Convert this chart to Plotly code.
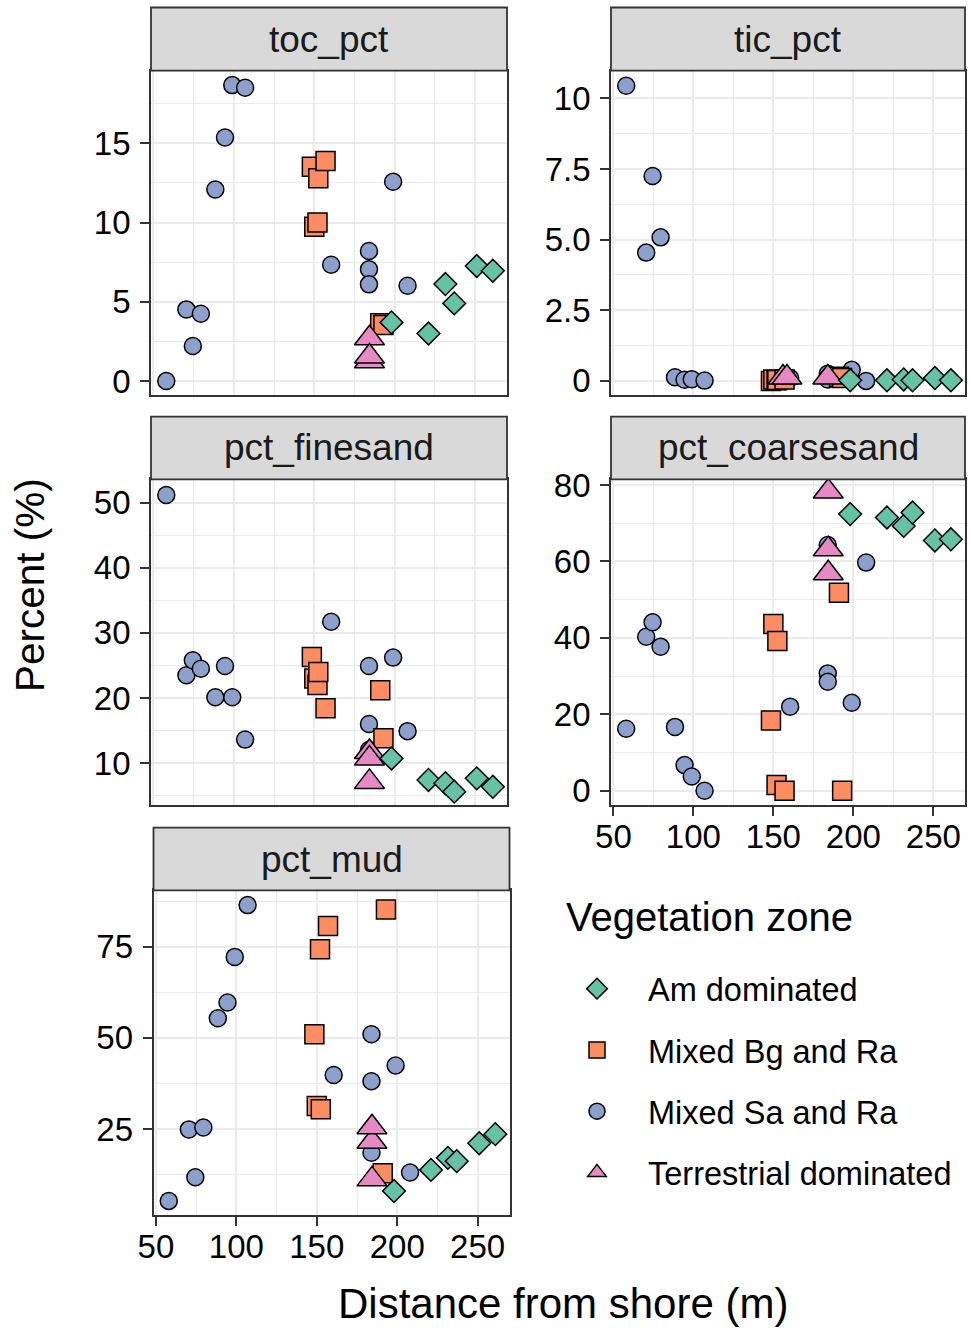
import plotly.graph_objects as go

# ---- data: distance from shore (m) of each core, by vegetation zone ----
zones = ["Am dominated", "Mixed Bg and Ra", "Mixed Sa and Ra", "Terrestrial dominated"]

dist_am = [198, 221, 231.5, 237, 251, 261]
dist_bg = [148.5, 150, 152, 152.5, 157, 191, 193]
dist_sa = [58, 70.5, 74.5, 79.5, 88.5, 94.5, 99, 107, 160.5, 184, 184, 184, 199, 208]
dist_terr = [184.3, 184.3, 184.3]
dist_terr_tic = [156, 158.5, 184]

# total organic carbon (%)
toc_am = [3.70, 3.0, 6.12, 4.9, 7.26, 6.96]
toc_bg = [13.52, 9.74, 10.01, 12.79, 13.88, 3.64, 3.53]
toc_sa = [0.0, 4.52, 2.21, 4.25, 12.09, 15.37, 18.67, 18.5, 7.34, 8.2, 7.05, 6.1, 12.57, 6.01]
toc_terr = [1.25, 2.7, 1.55]

# total inorganic carbon (%)
tic_am = [0.02, 0.02, 0.05, 0.02, 0.1, 0.02]
tic_bg = [0.0, 0.05, 0.02, 0.03, 0.05, 0.15, 0.1]
tic_sa = [10.45, 4.54, 7.25, 5.08, 0.13, 0.04, 0.06, 0.01, 0.1, 0.25, 0.1, 0.05, 0.39, 0.0]
tic_terr = [0.12, 0.12, 0.12]

# fine sand (%)
fine_am = [10.7, 7.4, 6.9, 5.6, 7.65, 6.35]
fine_bg = [26.3, 23.0, 22.0, 24.0, 18.4, 21.2, 13.8]
fine_sa = [51.2, 23.5, 25.8, 24.5, 20.1, 24.9, 20.1, 13.6, 31.7, 24.9, 16.0, 12.0, 26.2, 14.9]
fine_terr = [7.1, 11.7, 10.7]

# coarse sand (%)
coarse_am = [72.4, 71.5, 69.3, 72.8, 65.5, 65.8]
coarse_bg = [18.4, 43.6, 1.5, 39.2, 0.0, 51.8, 0.0]
coarse_sa = [16.2, 40.3, 44.1, 37.7, 16.7, 6.7, 3.7, 0.0, 22.0, 30.7, 28.5, 64.3, 23.0, 59.7]
coarse_terr = [78.3, 63.2, 56.9]

# mud (%)
mud_am = [8.0, 13.8, 17.1, 16.2, 21.1, 23.6]
mud_bg = [51.0, 31.3, 74.3, 30.4, 80.7, 12.9, 85.2]
mud_sa = [5.3, 24.9, 11.8, 25.4, 55.4, 59.7, 72.2, 86.4, 39.8, 38.1, 51.0, 18.5, 42.4, 13.1]
mud_terr = [11.2, 21.5, 25.5]

x_ticks = [50, 100, 150, 200, 250]
x_minor = [75, 125, 175, 225]

# ---- page geometry (pixels) ----
W, H = 971, 1328


def fx(p):
    return p / W


def fy(p):
    return 1 - p / H


BORDER = "#333333"
GRID = "#EBEBEB"
LW = 1.8

style = {
    "Am dominated": dict(symbol="diamond", size=17.5, color="#66C2A5", rank=1),
    "Mixed Bg and Ra": dict(symbol="square", size=19, color="#FC8D62", rank=2),
    "Mixed Sa and Ra": dict(symbol="circle", size=17, color="#8DA0CB", rank=3),
    "Terrestrial dominated": dict(symbol="triangle-up", size=26, color="#E78AC3", rank=4),
}

panels = [
    dict(title="toc_pct", box=(151, 507, 70.7, 395), strip_top=7.5,
         yrange=[-0.88, 19.58], yticks=[0, 5, 10, 15], ytext=["0", "5", "10", "15"],
         yminor=[2.5, 7.5, 12.5, 17.5], xlabels=False,
         series={"Mixed Sa and Ra": (dist_sa, toc_sa), "Mixed Bg and Ra": (dist_bg, toc_bg),
                 "Terrestrial dominated": (dist_terr, toc_terr), "Am dominated": (dist_am, toc_am)}),
    dict(title="tic_pct", box=(611, 965, 70.7, 395), strip_top=7.5,
         yrange=[-0.50, 10.98], yticks=[0, 2.5, 5, 7.5, 10], ytext=["0", "2.5", "5.0", "7.5", "10"],
         yminor=[1.25, 3.75, 6.25, 8.75], xlabels=False,
         series={"Mixed Sa and Ra": (dist_sa, tic_sa), "Mixed Bg and Ra": (dist_bg, tic_bg),
                 "Terrestrial dominated": (dist_terr_tic, tic_terr), "Am dominated": (dist_am, tic_am)}),
    dict(title="pct_finesand", box=(151, 507, 479.3, 805), strip_top=416.7,
         yrange=[3.55, 53.6], yticks=[10, 20, 30, 40, 50], ytext=["10", "20", "30", "40", "50"],
         yminor=[5, 15, 25, 35, 45], xlabels=False,
         series={"Mixed Sa and Ra": (dist_sa, fine_sa), "Mixed Bg and Ra": (dist_bg, fine_bg),
                 "Terrestrial dominated": (dist_terr, fine_terr), "Am dominated": (dist_am, fine_am)}),
    dict(title="pct_coarsesand", box=(611, 965, 479.3, 805), strip_top=416.7,
         yrange=[-3.74, 81.5], yticks=[0, 20, 40, 60, 80], ytext=["0", "20", "40", "60", "80"],
         yminor=[10, 30, 50, 70], xlabels=True,
         series={"Mixed Sa and Ra": (dist_sa, coarse_sa), "Mixed Bg and Ra": (dist_bg, coarse_bg),
                 "Terrestrial dominated": (dist_terr, coarse_terr), "Am dominated": (dist_am, coarse_am)}),
    dict(title="pct_mud", box=(153.5, 509.5, 890.3, 1215), strip_top=827.7,
         yrange=[1.43, 90.46], yticks=[25, 50, 75], ytext=["25", "50", "75"],
         yminor=[12.5, 37.5, 62.5, 87.5], xlabels=True,
         series={"Mixed Sa and Ra": (dist_sa, mud_sa), "Mixed Bg and Ra": (dist_bg, mud_bg),
                 "Terrestrial dominated": (dist_terr, mud_terr), "Am dominated": (dist_am, mud_am)}),
]

fig = go.Figure()
layout = dict(
    width=W, height=H,
    margin=dict(l=0, r=0, t=0, b=0, autoexpand=False),
    paper_bgcolor="white", plot_bgcolor="white",
    font=dict(family="Liberation Sans, Arial, sans-serif", color="black"),
    shapes=[], annotations=[],
)

for i, p in enumerate(panels, start=1):
    x0, x1, y0, y1 = p["box"]
    sx = "" if i == 1 else str(i)
    for zone, (xs, ys) in p["series"].items():
        st = style[zone]
        fig.add_trace(go.Scatter(
            x=xs, y=ys, mode="markers", name=zone, legendgroup=zone,
            legendrank=st["rank"], showlegend=(i == 1),
            xaxis="x" + sx, yaxis="y" + sx,
            marker=dict(symbol=st["symbol"], size=st["size"], color=st["color"],
                        line=dict(color="black", width=1.5)),
            hoverinfo="x+y+name",
        ))
    layout["xaxis" + sx] = dict(
        domain=[fx(x0), fx(x1)], anchor="y" + sx, range=[48.5, 269.8],
        tickmode="array", tickvals=x_ticks, ticktext=[str(v) for v in x_ticks],
        showticklabels=p["xlabels"], ticks="outside" if p["xlabels"] else "",
        ticklen=9, tickwidth=LW, tickcolor=BORDER, ticklabelstandoff=-8,
        tickfont=dict(size=33, color="black"),
        showline=True, mirror=True, linecolor=BORDER, linewidth=LW,
        showgrid=True, gridcolor=GRID, gridwidth=1.8, zeroline=False,
        automargin=False,
        minor=dict(tickmode="array", tickvals=x_minor, showgrid=True,
                   gridcolor=GRID, gridwidth=1.2, ticks=""),
    )
    layout["yaxis" + sx] = dict(
        domain=[fy(y1), fy(y0)], anchor="x" + sx, range=p["yrange"],
        tickmode="array", tickvals=p["yticks"], ticktext=p["ytext"],
        ticks="outside", ticklen=9, tickwidth=LW, tickcolor=BORDER,
        ticklabelstandoff=3,
        tickfont=dict(size=33, color="black"),
        showline=True, mirror=True, linecolor=BORDER, linewidth=LW,
        showgrid=True, gridcolor=GRID, gridwidth=1.8, zeroline=False,
        automargin=False,
        minor=dict(tickmode="array", tickvals=p["yminor"], showgrid=True,
                   gridcolor=GRID, gridwidth=1.2, ticks=""),
    )
    # facet strip
    layout["shapes"].append(dict(
        type="rect", xref="paper", yref="paper",
        x0=fx(x0), x1=fx(x1), y0=fy(y0), y1=fy(p["strip_top"]),
        fillcolor="#D9D9D9", line=dict(color=BORDER, width=LW), layer="above",
    ))
    layout["annotations"].append(dict(
        text=p["title"], xref="paper", yref="paper",
        x=fx((x0 + x1) / 2), y=fy((y0 + p["strip_top"]) / 2),
        xanchor="center", yanchor="middle", showarrow=False,
        font=dict(size=37, color="#1A1A1A"),
    ))

# axis titles
layout["annotations"].append(dict(
    text="Distance from shore (m)", xref="paper", yref="paper",
    x=fx(563), y=fy(1303), xanchor="center", yanchor="middle", showarrow=False,
    font=dict(size=42, color="black"),
))
layout["annotations"].append(dict(
    text="Percent (%)", xref="paper", yref="paper", textangle=-90,
    x=fx(30), y=fy(585), xanchor="center", yanchor="middle", showarrow=False,
    font=dict(size=40.5, color="black"),
))
# legend title
layout["annotations"].append(dict(
    text="Vegetation zone", xref="paper", yref="paper",
    x=fx(564), y=fy(917), xanchor="left", yanchor="middle", showarrow=False,
    font=dict(size=40, color="black"),
))

layout["legend"] = dict(
    x=fx(546), y=fy(961), xanchor="left", yanchor="top",
    font=dict(size=32.5, color="black"), traceorder="grouped",
    tracegroupgap=16, itemwidth=92, itemsizing="trace",
    bgcolor="rgba(0,0,0,0)", borderwidth=0,
)

fig.update_layout(**layout)
fig.write_html("out.html")
